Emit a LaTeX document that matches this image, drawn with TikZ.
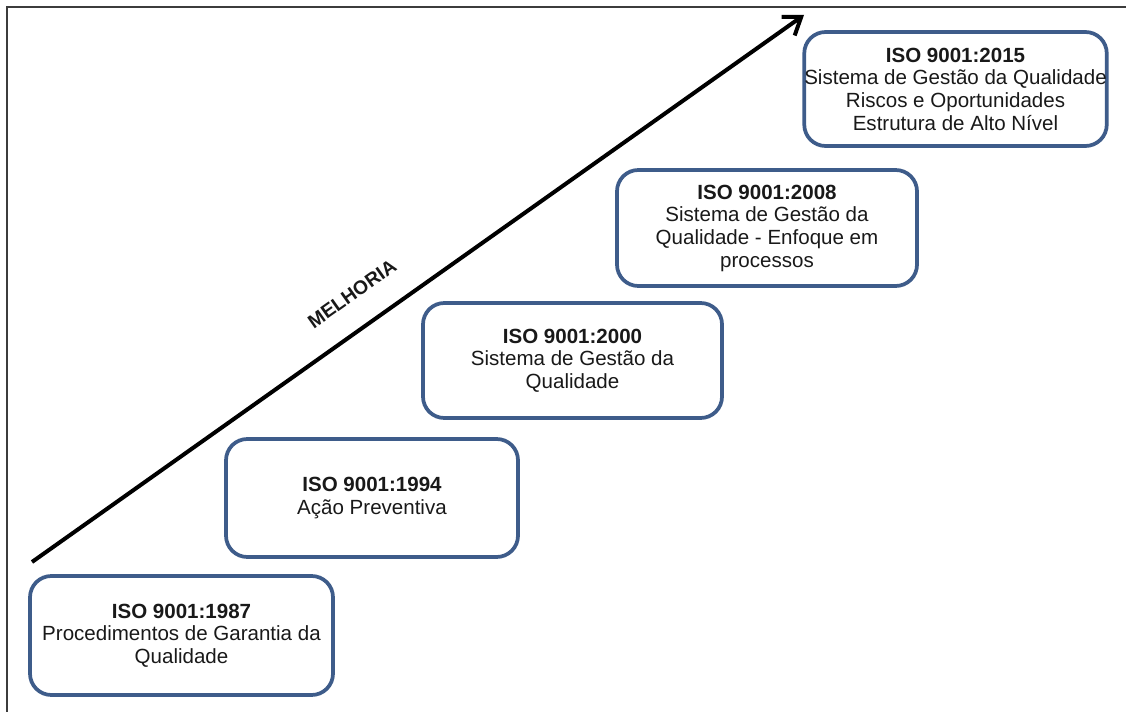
\documentclass[tikz,border=0pt]{standalone}
\usepackage{fontspec}
\setmainfont{Liberation Sans}
\usetikzlibrary{arrows.meta}
\definecolor{boxblue}{RGB}{62,92,138}
\definecolor{framegray}{RGB}{60,60,60}
\definecolor{textgray}{RGB}{25,25,25}
\begin{document}
\begin{tikzpicture}[x=0.75pt,y=-0.75pt,
  isobox/.style 2 args={draw=boxblue, line width=2.8pt, rounded corners=16pt,
    fill=white, align=center, inner sep=0pt, text=textgray,
    font=\fontsize{15.4}{17}\selectfont,
    minimum width=#1*0.75pt, minimum height=#2*0.75pt},
  frameline/.style={draw=framegray, line width=1.5pt},
  trend/.style={line width=3pt, -{Straight Barb[length=12pt,width=17pt]}}]
  \useasboundingbox (0,0) rectangle (1126,712);
  % page frame (top and left edges only)
  \draw[frameline] (1126,7) -- (7,7) -- (7,712);
  % improvement arrow
  \coordinate (start) at (32,562);
  \coordinate (tip) at (804,15);
  \draw[trend] (start) -- (tip);
  \node[font=\bfseries\fontsize{14.5}{16}\selectfont, rotate=35.3, text=textgray, inner sep=0pt]
    (melhoria) at (352,294) {MELHORIA};
  % milestones
  \node[isobox={303}{119}] (b1987) at (181.5,635.5)
    {\textbf{ISO 9001:1987}\\Procedimentos de Garantia da\\Qualidade};
  \node[isobox={292}{118}] (b1994) at (372,498)
    {\textbf{ISO 9001:1994}\\Ação Preventiva};
  \node[isobox={299}{115}] (b2000) at (572.5,360.5)
    {\textbf{ISO 9001:2000}\\Sistema de Gestão da\\Qualidade};
  \node[isobox={300}{116}] (b2008) at (767,228)
    {\textbf{ISO 9001:2008}\\Sistema de Gestão da\\Qualidade - Enfoque em\\processos};
  \node[isobox={301}{114}] (b2015) at (955.5,89)
    {\textbf{ISO 9001:2015}\\Sistema de Gestão da Qualidade\\Riscos e Oportunidades\\Estrutura de Alto Nível};
\end{tikzpicture}
\end{document}
